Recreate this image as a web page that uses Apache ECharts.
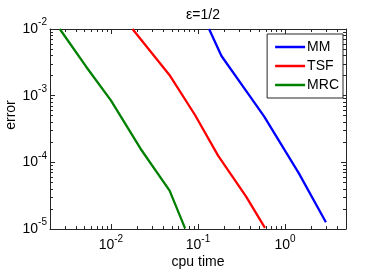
<!DOCTYPE html>
<html><head><meta charset="utf-8">
<script src="https://cdn.jsdelivr.net/npm/echarts@6/dist/echarts.min.js"></script>
<style>html,body{margin:0;padding:0;background:#fff}#c{width:382px;height:273px}</style>
</head><body><div id="c"></div>
<script>
const seriesNames = ['MM', 'TSF', 'MRC'];
const mmTime = [0.134, 0.186, 0.39, 0.576, 1.44, 2.94];
const mmErr  = [0.0100, 0.00394, 0.00100, 0.000484, 0.0000684, 0.0000126];
const tsfTime = [0.0177, 0.048, 0.0924, 0.170, 0.357, 0.587];
const tsfErr  = [0.0100, 0.00197, 0.000513, 0.000126, 0.0000305, 0.0000104];
const mrcTime = [0.00259, 0.0052, 0.0100, 0.0219, 0.0472, 0.0711];
const mrcErr  = [0.0100, 0.00272, 0.000850, 0.000160, 0.0000376, 0.0000102];
const xTicks = [0.01, 0.1, 1];
const yTicks = [0.00001, 0.0001, 0.001, 0.01];
const colors = ['#0000ff', '#ff0000', '#008000'];

function pairs(xs, ys) { return xs.map((x, i) => [x, ys[i]]); }
function fmt(v) {
  const e = Math.round(Math.log10(v));
  return '{b|10}{s|' + e + '}';
}
const font = 'Liberation Sans';
const rich = {
  b: { fontSize: 14, fontFamily: font, color: '#000' },
  s: { fontSize: 10, fontFamily: font, color: '#000', padding: [0, 0, 13, 0] }
};
const lineStyle = { color: '#262626', width: 1 };
const minorLine = { color: '#262626', width: 1 };

const chart = echarts.init(document.getElementById('c'), null, { renderer: 'canvas' });
const baseX = {
  type: 'log', min: 0.002, max: 5, logBase: 10,
  axisLine: { show: true, lineStyle },
  splitLine: { show: false },
  axisTick: { show: true, inside: true, length: 5, lineStyle },
  minorTick: { show: true, splitNumber: 9, length: 3, lineStyle: minorLine },
};
const baseY = {
  type: 'log', min: 0.00001, max: 0.01, logBase: 10,
  axisLine: { show: true, lineStyle },
  splitLine: { show: false },
  axisTick: { show: true, inside: true, length: 5, lineStyle },
  minorTick: { show: true, splitNumber: 9, length: 3, lineStyle: minorLine },
};
chart.setOption({
  animation: false,
  backgroundColor: '#fff',
  title: { text: 'ε=1/2', left: 198, textAlign: 'center', top: 3,
    textStyle: { fontSize: 14, fontWeight: 'normal', fontFamily: font, color: '#000' } },
  grid: { left: 50, right: 36, top: 29, bottom: 44, outerBoundsMode: 'none', containLabel: false },
  legend: {
    orient: 'vertical', right: 39, top: 34,
    data: seriesNames,
    icon: 'rect',
    itemWidth: 30, itemHeight: 2.5, itemGap: 5,
    padding: [6, 4, 6, 8],
    borderColor: '#262626', borderWidth: 1, borderRadius: 0,
    backgroundColor: '#fff',
    textStyle: { fontSize: 14, fontFamily: font, color: '#000', padding: [0, 0, 0, -3], lineHeight: 14 }
  },
  xAxis: [
    Object.assign({}, baseX, {
      position: 'bottom',
      name: 'cpu time', nameLocation: 'middle', nameGap: 26, nameMoveOverlap: false,
      nameTextStyle: { fontSize: 14, fontFamily: font, color: '#000' },
      axisLabel: { formatter: fmt, showMinLabel: false, showMaxLabel: false, margin: 5, rich }
    }),
    Object.assign({}, baseX, { position: 'top', axisLabel: { show: false } })
  ],
  yAxis: [
    Object.assign({}, baseY, {
      position: 'left',
      name: 'error', nameLocation: 'middle', nameGap: 32, nameMoveOverlap: false,
      nameTextStyle: { fontSize: 14, fontFamily: font, color: '#000', padding: [0, 0, 0, 28] },
      axisLabel: { formatter: fmt, margin: 3, rich }
    }),
    Object.assign({}, baseY, { position: 'right', axisLabel: { show: false } })
  ],
  series: [
    { name: 'MM', type: 'line', data: pairs(mmTime, mmErr), symbol: 'none', color: colors[0], lineStyle: { width: 2.3 } },
    { name: 'TSF', type: 'line', data: pairs(tsfTime, tsfErr), symbol: 'none', color: colors[1], lineStyle: { width: 2.3 } },
    { name: 'MRC', type: 'line', data: pairs(mrcTime, mrcErr), symbol: 'none', color: colors[2], lineStyle: { width: 2.3 } }
  ]
});
</script></body></html>
